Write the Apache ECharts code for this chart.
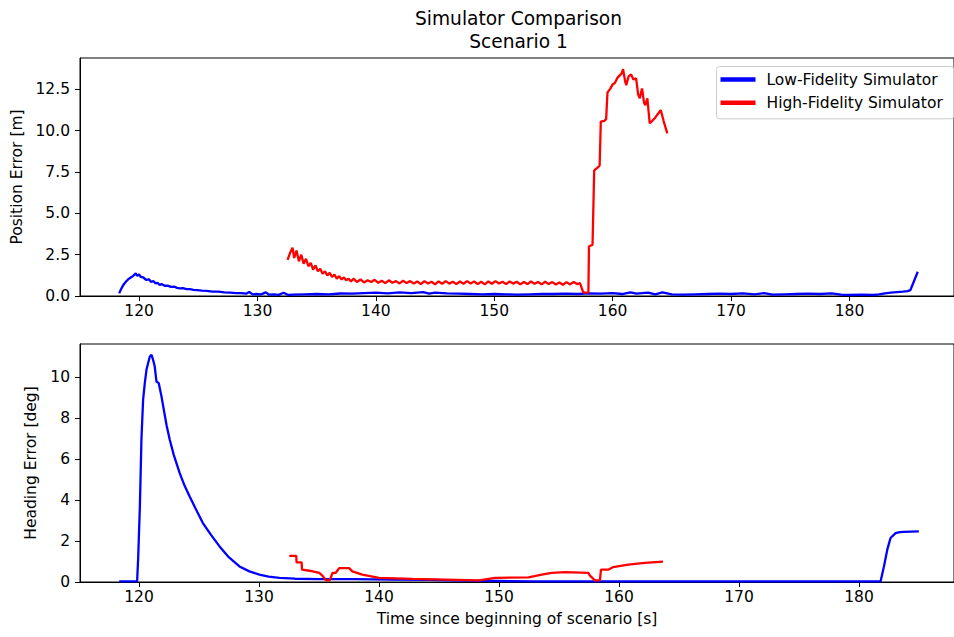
<!DOCTYPE html>
<html><head><meta charset="utf-8">
<script src="https://cdn.jsdelivr.net/npm/echarts@6/dist/echarts.min.js"></script>
<style>html,body{margin:0;padding:0;background:#fff}#chart{width:954px;height:637px}</style>
</head><body><div id="chart"></div>
<script>
// ---- Data ----
const seriesNames = ['Low-Fidelity Simulator', 'High-Fidelity Simulator'];
const timeTicks = [120, 130, 140, 150, 160, 170, 180];
const positionTicks = [0, 2.5, 5, 7.5, 10, 12.5];
const headingTicks = [0, 2, 4, 6, 8, 10];

// [time s, position error m]
const lowPosition = [
  [118.32,0.16],[118.5,0.45],[118.7,0.7],[118.9,0.88],[119.1,1.02],[119.3,1.12],[119.5,1.22],[119.72,1.37],
  [119.85,1.22],[120.0,1.3],[120.15,1.15],[120.35,1.12],[120.62,0.97],[120.85,1.0],[121.0,0.86],[121.2,0.9],
  [121.4,0.76],[121.55,0.8],[121.74,0.67],[121.9,0.72],[122.15,0.62],[122.4,0.63],[122.7,0.55],[123.0,0.56],
  [123.2,0.49],[123.43,0.46],[123.7,0.47],[124.0,0.41],[124.3,0.42],[124.6,0.37],[124.9,0.36],[125.3,0.33],
  [125.7,0.31],[126.2,0.26],[126.7,0.26],[127.2,0.22],[127.7,0.21],[128.2,0.18],[128.6,0.18],[129.04,0.14],
  [129.3,0.24],[129.6,0.1],[129.9,0.12],[130.3,0.1],[130.7,0.22],[131.0,0.08],[131.4,0.1],[131.8,0.07],
  [132.2,0.2],[132.6,0.06],[133.0,0.08],[134,0.1],[135,0.12],[136,0.1],[137,0.15],[138,0.14],[139,0.18],
  [140,0.2],[141,0.16],[142,0.22],[143,0.18],[144,0.24],[144.5,0.14],[145,0.2],[146,0.16],[147,0.14],
  [148,0.12],[149,0.1],[150,0.12],[151,0.1],[152,0.08],[153,0.1],[154,0.12],[155,0.12],[156,0.14],
  [157,0.12],[158,0.16],[159,0.14],[160,0.18],[160.8,0.12],[161.5,0.22],[162,0.14],[163,0.2],[163.6,0.1],
  [164.2,0.22],[165,0.1],[166,0.08],[167,0.1],[168,0.12],[169,0.14],[170,0.12],[171,0.16],[172,0.1],
  [172.8,0.18],[173.5,0.08],[174.5,0.1],[175.5,0.12],[176.5,0.14],[177.5,0.12],[178.5,0.16],[179.3,0.08],
  [180,0.06],[181,0.08],[182,0.06],[182.5,0.1],[183,0.16],[183.5,0.2],[184,0.24],[184.5,0.27],[184.9,0.3],
  [185.15,0.36],[185.77,1.47]
];

const highPosition = [
  [132.54,2.18],[132.75,2.6],[132.96,2.92],[133.1,2.3],[133.3,2.75],[133.5,2.1],[133.7,2.5],[133.9,1.95],
  [134.1,2.25],[134.3,1.8],[134.5,2.0],[134.7,1.6],[134.9,1.85],[135.1,1.5],[135.3,1.65],[135.5,1.35],
  [135.7,1.5],[135.9,1.25],[136.1,1.4],[136.3,1.15],[136.5,1.3],[136.7,1.05],[136.9,1.2],[137.1,1.0],
  [137.3,1.12],[137.5,0.95],[137.7,1.05],[137.9,0.88],[138.1,1.05],[138.4,0.85],[138.7,1.0],[139.0,0.82],
  [139.3,0.95],[139.6,0.85],[139.9,0.98],[140.2,0.8],[140.5,0.92],[140.8,0.78],[141.1,0.95],[141.4,0.8],
  [141.7,0.9],[142.0,0.76],[142.3,0.92],[142.6,0.78],[142.9,0.9],[143.2,0.75],[143.5,0.88],[143.8,0.72],
  [144.1,0.9],[144.4,0.76],[144.7,0.86],[145.0,0.7],[145.3,0.88],[145.6,0.74],[145.9,0.9],[146.2,0.75],
  [146.5,0.86],[146.8,0.72],[147.1,0.88],[147.4,0.74],[147.7,0.9],[148.0,0.76],[148.3,0.88],[148.6,0.72],
  [148.9,0.86],[149.2,0.7],[149.5,0.88],[149.8,0.74],[150.1,0.9],[150.4,0.76],[150.7,0.86],[151.0,0.72],
  [151.3,0.88],[151.6,0.75],[151.9,0.86],[152.2,0.7],[152.5,0.85],[152.8,0.72],[153.1,0.88],[153.4,0.74],
  [153.7,0.85],[154.0,0.7],[154.3,0.86],[154.6,0.72],[154.9,0.84],[155.2,0.7],[155.5,0.82],[155.8,0.68],
  [156.1,0.84],[156.4,0.7],[156.7,0.85],[157.0,0.72],[157.24,0.78],[157.5,0.25],[157.66,0.2],[157.95,0.22],
  [158.0,3.0],[158.3,3.1],[158.44,7.6],[158.7,7.75],[158.9,7.9],[159.0,10.55],[159.3,10.6],[159.45,10.7],
  [159.56,12.3],[159.8,12.55],[160.0,12.8],[160.2,12.9],[160.4,13.2],[160.6,13.35],[160.75,13.45],[160.88,13.73],
  [161.05,13.0],[161.15,12.76],[161.35,13.3],[161.56,13.4],[161.75,13.1],[161.98,13.17],[162.15,12.2],[162.29,11.96],
  [162.48,12.56],[162.65,11.7],[162.76,11.55],[162.93,11.96],[163.13,10.45],[163.35,10.6],[163.55,10.75],[163.8,11.0],
  [164.06,11.25],[164.3,10.6],[164.61,9.84]
];

// [time s, heading error deg]
const lowHeading = [
  [118.35,0.03],[119.84,0.03],[119.93,1.2],[120.07,3.69],[120.2,6.96],[120.34,8.91],[120.48,9.72],[120.62,10.37],
  [120.76,10.7],[120.9,11.02],[121.04,11.1],[121.17,10.86],[121.31,10.53],[121.45,9.8],[121.64,9.72],[121.87,9.07],
  [122.1,8.3],[122.3,7.65],[122.56,6.95],[122.9,6.2],[123.39,5.32],[123.8,4.7],[124.22,4.18],[124.7,3.6],
  [125.32,2.88],[126.0,2.3],[126.71,1.74],[127.5,1.2],[128.37,0.76],[129.2,0.52],[130.03,0.36],[130.8,0.26],
  [131.7,0.2],[133.0,0.16],[135.0,0.14],[138.0,0.14],[141.0,0.12],[144.0,0.1],[147.0,0.07],[150.0,0.05],
  [153.0,0.03],[181.8,0.03],[182.08,0.76],[182.36,1.58],[182.63,2.15],[183.05,2.39],[183.4,2.44],[183.74,2.45],
  [184.99,2.47]
];

const highHeading = [
  [132.52,1.28],[133.1,1.28],[133.13,0.96],[133.55,0.96],[133.58,0.6],[134.2,0.55],[135.02,0.44],[135.3,0.3],
  [135.57,0.08],[135.9,0.08],[136.12,0.44],[136.4,0.45],[136.68,0.68],[137.51,0.68],[137.78,0.52],[138.61,0.36],
  [140.0,0.2],[142.77,0.15],[145.54,0.12],[148.31,0.08],[149.69,0.2],[152.46,0.23],[153.56,0.36],[154.39,0.45],
  [155.5,0.48],[157.44,0.45],[157.6,0.3],[158.0,0.08],[158.41,0.08],[158.5,0.6],[159.1,0.6],[159.52,0.73],
  [160.76,0.85],[162.15,0.93],[163.67,1.0]
];

// ---- Chart ----
const FONT = "'DejaVu Sans', sans-serif";
const FS = 15.5;
const BLUE = '#0000ff', RED = '#ff0000';
const chart = echarts.init(document.getElementById('chart'), null, {renderer: 'svg'});

function xAxisFor(gridIndex, min, max, withName) {
  return {
    type: 'value', gridIndex, min, max,
    name: withName ? 'Time since beginning of scenario [s]' : '',
    nameLocation: 'middle', nameGap: 29,
    nameTextStyle: {fontFamily: FONT, fontSize: FS, color: '#000'},
    axisLine: {show: true, onZero: false, lineStyle: {color: '#000', width: 1}},
    axisTick: {show: true, length: 5, lineStyle: {color: '#000', width: 1}, customValues: timeTicks},
    axisLabel: {fontFamily: FONT, fontSize: FS, color: '#000', margin: 7, customValues: timeTicks},
    splitLine: {show: false}
  };
}
function yAxisFor(gridIndex, max, ticks, name, gap, fmt) {
  return {
    type: 'value', gridIndex, min: 0, max,
    name, nameLocation: 'middle', nameGap: gap,
    nameTextStyle: {fontFamily: FONT, fontSize: FS, color: '#000'},
    axisLine: {show: true, lineStyle: {color: '#000', width: 1}},
    axisTick: {show: true, length: 5, lineStyle: {color: '#000', width: 1}, customValues: ticks},
    axisLabel: {fontFamily: FONT, fontSize: FS, color: '#000', margin: 10, customValues: ticks, formatter: fmt},
    splitLine: {show: false}
  };
}
function line(name, data, color, idx) {
  return {
    name, type: 'line', data, xAxisIndex: idx, yAxisIndex: idx,
    showSymbol: false, symbol: 'none', color,
    lineStyle: {color, width: 2.3}, animation: false
  };
}

chart.setOption({
  animation: false,
  backgroundColor: '#fff',
  title: {
    text: 'Simulator Comparison\nScenario 1',
    left: 513.5, top: 1.5, textAlign: 'center',
    textStyle: {fontFamily: FONT, fontSize: 18.6, fontWeight: 'normal', color: '#000', lineHeight: 23.5}
  },
  legend: {
    data: seriesNames, orient: 'vertical', left: 716.5, top: 66.5,
    icon: 'rect', itemWidth: 35, itemHeight: 4.5, itemGap: 5.3,
    padding: [4, 11, 7, 4],
    backgroundColor: 'rgba(255,255,255,0.8)', borderColor: '#cccccc', borderWidth: 1, borderRadius: 3,
    textStyle: {fontFamily: FONT, fontSize: FS, color: '#000', lineHeight: 18, padding: [0, 0, 0, 6]}
  },
  grid: [
    {left: 80, top: 58, width: 877, height: 238, show: true, borderColor: '#000', borderWidth: 1, containLabel: false},
    {left: 80, top: 344, width: 877, height: 238, show: true, borderColor: '#000', borderWidth: 1, containLabel: false}
  ],
  xAxis: [xAxisFor(0, 115.01, 188.83, false), xAxisFor(1, 115.08, 187.92, true)],
  yAxis: [
    yAxisFor(0, 14.4, positionTicks, 'Position Error [m]', 54, v => v.toFixed(1)),
    yAxisFor(1, 11.63, headingTicks, 'Heading Error [deg]', 35, v => String(v))
  ],
  series: [
    line(seriesNames[0], lowPosition, BLUE, 0),
    line(seriesNames[1], highPosition, RED, 0),
    line(seriesNames[0], lowHeading, BLUE, 1),
    line(seriesNames[1], highHeading, RED, 1)
  ]
});
</script></body></html>
